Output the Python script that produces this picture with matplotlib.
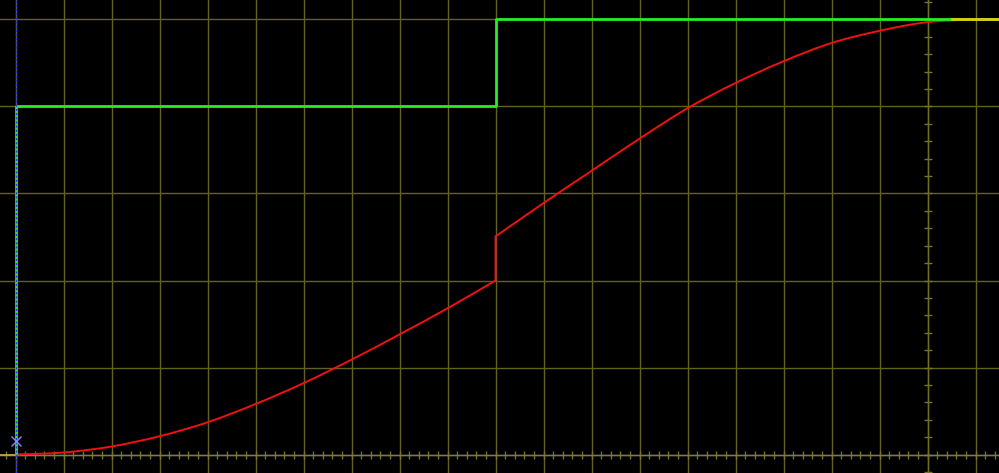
import numpy as np
import matplotlib
matplotlib.use("Agg")
import matplotlib.pyplot as plt
from matplotlib.path import Path
from matplotlib.patches import PathPatch
from matplotlib.ticker import MultipleLocator, NullFormatter

# ---- data ----
step_x = [0, 0, 10, 10, 20.6]
step_y = [0, 4, 4, 5, 5]

# red curve, first part (before the jump) and second part (after the jump)
curve1_x = [0, 1, 2, 3, 4, 5, 6, 7, 8, 9, 10]
curve1_y = [0, 0.023, 0.092, 0.21, 0.37, 0.58, 0.82, 1.09, 1.38, 1.68, 2.0]
curve2_x = [10, 11, 12, 13, 14, 15, 16, 17, 18, 19, 20, 20.6]
curve2_y = [2.506, 2.89, 3.26, 3.63, 3.98, 4.27, 4.52, 4.73, 4.87, 4.97, 5.0, 5.0]

overlap_x = [19.5, 20.6]
overlap_y = [5.0, 5.0]

marker_x = [0]
marker_y = [0.16]

vaxis_x = 19


def smooth_path(xs, ys):
    """Catmull-Rom style cubic Bezier path through the given points."""
    pts = np.column_stack([xs, ys]).astype(float)
    n = len(pts)
    verts = [pts[0]]
    codes = [Path.MOVETO]
    for i in range(n - 1):
        p0 = pts[i - 1] if i > 0 else pts[i]
        p1 = pts[i]
        p2 = pts[i + 1]
        p3 = pts[i + 2] if i + 2 < n else pts[i + 1]
        c1 = p1 + (p2 - p0) / 6.0
        c2 = p2 - (p3 - p1) / 6.0
        verts += [c1, c2, p2]
        codes += [Path.CURVE4] * 3
    return verts, codes


fig = plt.figure(figsize=(9.99, 4.73), dpi=100, facecolor="black")
ax = fig.add_axes([0, 0, 1, 1], facecolor="black")

ax.set_xlim(-15.5 / 48, (999 - 15.5) / 48)
ax.set_ylim(-(473 - 454.5) / 87, 454.5 / 87)

olive = "#626220"
ax.xaxis.set_major_locator(MultipleLocator(1))
ax.yaxis.set_major_locator(MultipleLocator(1))
ax.xaxis.set_minor_locator(MultipleLocator(0.2))
ax.yaxis.set_minor_locator(MultipleLocator(0.2))
ax.xaxis.set_major_formatter(NullFormatter())
ax.yaxis.set_major_formatter(NullFormatter())
ax.grid(True, which="major", color=olive, lw=1.0, zorder=0)
ax.set_axisbelow(True)

for s in ["top", "right"]:
    ax.spines[s].set_visible(False)
ax.spines["bottom"].set_position(("data", 0))
ax.spines["bottom"].set_color("#78786c")
ax.spines["bottom"].set_linewidth(1.0)
ax.spines["left"].set_position(("data", vaxis_x))
ax.spines["left"].set_color("#6e6e22")
ax.spines["left"].set_linewidth(1.0)
ax.tick_params(axis="both", which="both", direction="inout", length=5.5,
               width=1, color="#76761e", labelbottom=False, labelleft=False)

# orange axis segment left of the origin
ax.plot([ax.get_xlim()[0], 0], [0, 0], color="#d0a050", lw=1.2, zorder=3)

# red curve (two smooth pieces joined by the vertical jump)
v1, c1 = smooth_path(curve1_x, curve1_y)
v2, c2 = smooth_path(curve2_x, curve2_y)
c2[0] = Path.LINETO
path = Path(np.array(v1 + v2), c1 + c2)
ax.add_patch(PathPatch(path, facecolor="none", edgecolor="#f21010", lw=1.4,
                       zorder=4, capstyle="butt", joinstyle="miter"))

# green step
ax.plot(step_x, step_y, color="#22f022", lw=2.0, zorder=5, solid_capstyle="butt")
# overlap (yellow)
ax.plot(overlap_x, overlap_y, color="#e0c810", lw=2.0, zorder=6)

# blue dotted vertical cursor
ax.axvline(0, color="#2030ff", lw=1.0, ls=(0, (1.5, 1.5)), zorder=7)
# marker
ax.plot(marker_x, marker_y, marker="x", ms=7, mew=1.0, color="#8888ff",
        ls="none", zorder=8)

fig.savefig("out.png", dpi=100, facecolor="black")
